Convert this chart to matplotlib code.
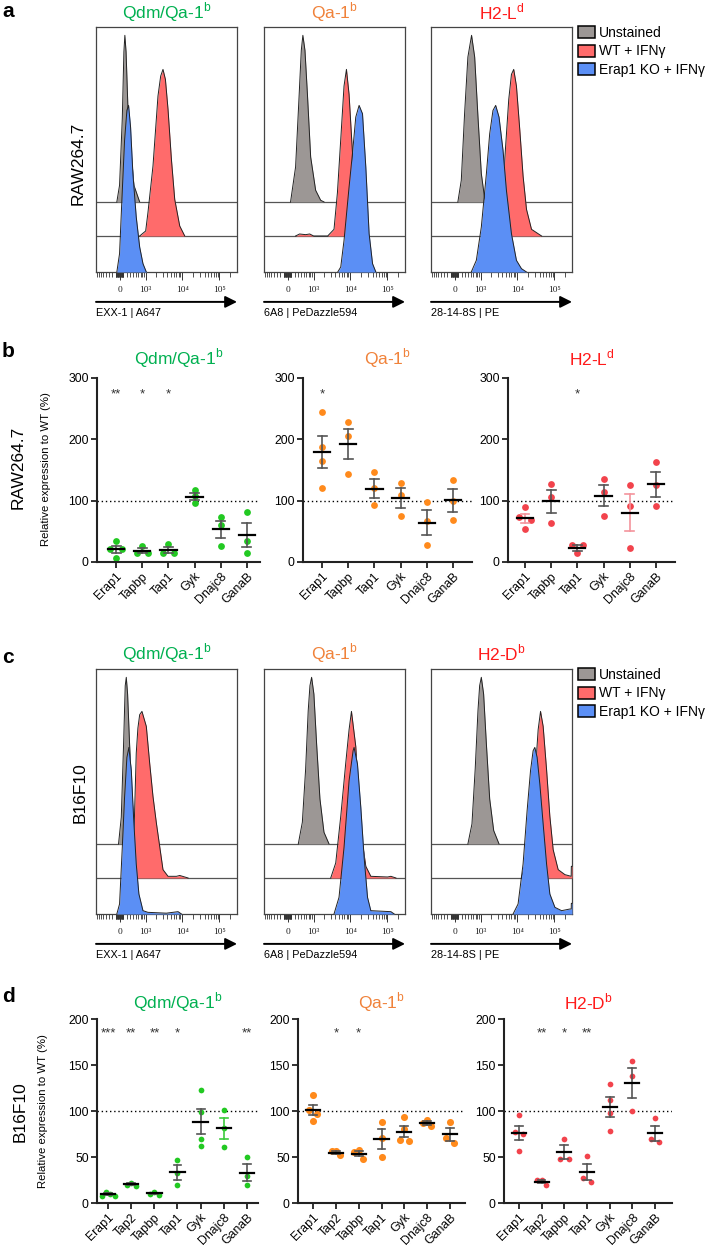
import matplotlib
matplotlib.use("Agg")
import matplotlib.pyplot as plt
import matplotlib.transforms as mtransforms
import numpy as np
from matplotlib.patches import Patch
from matplotlib.ticker import NullFormatter

plt.rcParams['font.family'] = ['Liberation Sans', 'DejaVu Sans']
plt.rcParams['mathtext.fontset'] = 'custom'
plt.rcParams['mathtext.rm'] = 'Liberation Sans'

# ---------------- data ----------------
samples = ["Unstained", "WT + IFNγ", "Erap1 KO + IFNγ"]

# flow histograms: (fluorescence, % of max / 100)
a_curves = [
    {"Unstained": ([-70, 0, 70, 112, 138, 171, 234, 417, 658],
                   [0, .1, .5, .9, 1, .9, .5, .1, 0]),
     "WT": ([658, 1000, 1162, 1611, 2213, 2624, 3032, 3527, 4153, 5129, 6300, 8600, 11740],
            [0, .03, .14, .42, .84, .96, 1, .94, .76, .46, .22, .06, 0]),
     "KO": ([-70, 0, 59, 130, 194, 243, 304, 381, 507, 658, 832, 1044],
            [0, .11, .43, .79, .97, 1, .87, .59, .33, .15, .05, 0])},
    {"Unstained": ([77, 214, 314, 395, 453, 536, 645, 814, 1140, 1580, 1950],
                   [0, .21, .61, .91, 1, .91, .65, .27, .07, .01, 0]),
     "WT": ([214, 337, 565, 760, 997, 2464, 3660, 4530, 5570, 6830, 7940, 9340, 11540, 14160, 17420, 21500],
            [0, .012, .008, .012, 0, 0, .04, .26, .58, .9, 1, .85, .5, .2, .05, 0]),
     "KO": ([4620, 5570, 6830, 9340, 11740, 14160, 17420, 21500, 26400, 32400, 40100, 49200],
            [0, .03, .19, .51, .73, .93, 1, .95, .63, .23, .05, 0])},
    {"Unstained": ([85, 177, 273, 381, 520, 658, 832, 1044, 1301, 1454],
                   [0, .13, .53, .87, 1, .87, .51, .17, .02, 0]),
     "WT": ([2744, 3750, 4820, 5930, 7010, 8080, 9560, 11740, 14430, 17850, 24350, 33250, 45400],
            [0, .14, .52, .82, .97, 1, .9, .64, .36, .16, .04, .02, 0]),
     "KO": ([507, 742, 1044, 1454, 1797, 2213, 2624, 3234, 4153, 5129, 7010, 9560, 13060, 17850],
            [0, .07, .27, .59, .83, .97, 1, .93, .73, .49, .23, .07, .02, 0])},
]
c_curves = [
    {"Unstained": ([-26, 44, 104, 148, 177, 214, 273, 360, 482, 622],
                   [0, .16, .6, .95, 1, .9, .6, .25, .05, 0]),
     "WT": ([360, 381, 443, 507, 577, 658, 775, 1044, 1301, 1611, 2000, 2464, 3032, 4153, 7010, 8600, 14430],
            [0, .05, .4, .75, .9, .98, 1, .91, .69, .49, .33, .19, .05, .01, .01, .015, 0]),
     "KO": ([-70, 0, 70, 130, 194, 252, 328, 405, 507, 622, 832, 1162, 3750, 7750, 9560],
            [0, .06, .4, .7, .94, 1, .86, .58, .3, .12, .02, .01, .005, .014, 0])},
    {"Unstained": ([295, 433, 565, 684, 775, 869, 1014, 1215, 1508, 1950, 2680],
                   [0, .13, .45, .8, .95, 1, .9, .6, .27, .07, 0]),
     "WT": ([2980, 4075, 5570, 7600, 9340, 10840, 14160, 17420, 21500, 26400, 36050, 101900, 125000, 170700],
            [0, .09, .37, .69, .89, 1, .79, .45, .21, .07, .01, .006, .01, 0]),
     "KO": ([3660, 5000, 6830, 9340, 11990, 12740, 15740, 19360, 23770, 29370, 36050, 125200, 153700],
            [0, .1, .4, .8, .98, 1, .9, .64, .34, .1, .02, .014, 0])},
    {"Unstained": ([381, 536, 684, 832, 933, 1044, 1215, 1454, 1797, 2316, 3234],
                   [0, .12, .45, .8, .95, 1, .9, .6, .27, .08, 0]),
     "WT": ([13060, 21900, 29900, 36750, 42640, 50140, 62000, 76000, 93300, 127300, 193700, 285000, 288000, 300000],
            [0, .19, .59, .89, 1, .91, .65, .37, .17, .05, .02, .01, .07, .07]),
     "KO": ([7750, 10580, 14430, 18530, 22900, 26900, 29900, 34500, 40800, 50140, 62000, 76000, 104000, 157400,
             264000, 286000, 288000, 300000],
            [0, .06, .3, .62, .86, .98, 1, .94, .78, .54, .3, .12, .04, .02, .03, .03, .064, .064])},
]
flow_xlabels = ["EXX-1 | A647", "6A8 | PeDazzle594", "28-14-8S | PE"]
flow_ticks = [0, 1e3, 1e4, 1e5]
flow_ticklabels = ["0", "10³", "10⁴", "10⁵"]

titles_ab = ["Qdm/Qa-1$^\\mathrm{b}$", "Qa-1$^\\mathrm{b}$", "H2-L$^\\mathrm{d}$"]
titles_cd = ["Qdm/Qa-1$^\\mathrm{b}$", "Qa-1$^\\mathrm{b}$", "H2-D$^\\mathrm{b}$"]

# relative expression to WT (%)
b_genes = ["Erap1", "Tapbp", "Tap1", "Gyk", "Dnajc8", "GanaB"]
b_qdm = [[34, 22, 21, 7], [26, 15, 15], [30, 14, 15], [117, 107, 96], [73, 60, 26], [81, 35, 15]]
b_qa1 = [[244, 188, 164, 121], [228, 205, 144], [146, 120, 93], [129, 110, 75], [98, 67, 28], [134, 100, 68]]
b_h2ld = [[90, 74, 68, 53], [127, 106, 64], [27, 27, 14], [136, 114, 75], [126, 92, 23], [163, 126, 91]]
b_stars = [["**", "*", "*", "", "", ""],
           ["*", "", "", "", "", ""],
           ["", "", "*", "", "", ""]]

d_genes = ["Erap1", "Tap2", "Tapbp", "Tap1", "Gyk", "Dnajc8", "GanaB"]
d_qdm = [[8, 12, 8, 10], [19, 22, 20], [9, 12, 10], [47, 33, 20], [123, 99, 70, 62], [101, 82, 61], [50, 29, 20]]
d_qa1 = [[117, 101, 97, 89], [52, 56, 56], [58, 48, 55], [88, 71, 50], [94, 80, 67, 69], [90, 84, 87], [88, 71, 65]]
d_h2db = [[96, 77, 75, 57], [20, 25, 25], [70, 48, 48], [51, 23, 27], [129, 112, 98, 78], [154, 138, 100],
          [92, 66, 70]]
d_stars = [["***", "**", "**", "*", "", "", "**"],
           ["", "*", "*", "", "", "", ""],
           ["", "**", "*", "**", "", "", ""]]

# ---------------- style ----------------
GREEN, ORANGE, RED = "#00B050", "#F0823A", "#FF1A1A"
DOT = ["#22C922", "#FF8A1C", "#F2434C"]
HIST = {"Unstained": "#9C9795", "WT": "#FF6B6B", "KO": "#5B8FF5"}
BASE = {"Unstained": 0.286, "WT": 0.147, "KO": 0.0}
PEAK = 0.68

W, H = 708, 1246
fig = plt.figure(figsize=(W / 100, H / 100), dpi=100)


def box(l, t, r, b):
    return fig.add_axes([l / W, 1 - b / H, (r - l) / W, (b - t) / H])


def ftext(x, y, s, **kw):
    fig.text(x / W, 1 - y / H, s, **kw)


def flow_panel(ax, curves, xlabel):
    ax.set_xscale('asinh', linear_width=412)
    ax.set_xlim(-840, 3.0e5)
    ax.set_ylim(0, 1)
    for name in ["Unstained", "WT"]:
        ax.axhline(BASE[name], color='#555555', lw=0.9, zorder=1)
    for z, name in enumerate(["Unstained", "WT", "KO"]):
        xs, hs = curves[name]
        ys = BASE[name] + np.asarray(hs) * PEAK
        ax.fill_between(xs, BASE[name], ys, color=HIST[name], lw=0, zorder=2 + z)
        ax.plot(xs, ys, color='#222222', lw=0.7, zorder=2 + z)
    minor = [-k * 10 ** j for j in (1, 2) for k in range(1, 10) if k * 10 ** j < 840]
    minor += [k * 10 ** j for j in (1, 2, 3, 4) for k in range(1, 10) if k > 1 or j < 3]
    minor += [2e5]
    ax.set_xticks(flow_ticks)
    ax.set_xticks(minor, minor=True)
    ax.xaxis.set_major_formatter(NullFormatter())
    ax.xaxis.set_minor_formatter(NullFormatter())
    ax.set_yticks([])
    ax.tick_params(axis='x', which='major', length=5.5, width=0.7, color='#333333')
    ax.tick_params(axis='x', which='minor', length=3.5, width=0.6, color='#333333')
    trans = mtransforms.blended_transform_factory(ax.transData, ax.transAxes)
    for v, s in zip(flow_ticks, flow_ticklabels):
        ax.text(v, -0.075, s, transform=trans, ha='center', va='center', fontsize=6.8,
                family=['Liberation Serif', 'DejaVu Serif'], color='#222222')
    for sp in ax.spines.values():
        sp.set_color('#444444')
        sp.set_linewidth(0.9)
    ax.annotate('', xy=(1.0, -0.122), xytext=(0, -0.122), xycoords='axes fraction',
                arrowprops=dict(arrowstyle='-|>,head_length=0.7,head_width=0.35', lw=1.4,
                                color='black', shrinkA=0, shrinkB=0), annotation_clip=False)
    ax.text(0, -0.145, xlabel, transform=ax.transAxes, ha='left', va='top', fontsize=7.8)


def swarm(vals, thresh, step):
    vals = np.asarray(vals, float)
    order = np.argsort(-vals, kind='stable')
    offs = np.zeros(len(vals))
    clusters, cur = [], [order[0]]
    for a, b in zip(order[:-1], order[1:]):
        if vals[a] - vals[b] < thresh:
            cur.append(b)
        else:
            clusters.append(cur)
            cur = [b]
    clusters.append(cur)
    for cl in clusters:
        n = len(cl)
        if n == 1:
            continue
        half = max(1.0, (n - 1) / 2)
        slots = np.linspace(-half, half, n)
        slots = slots[np.argsort(np.abs(slots) + 1e-3 * slots, kind='stable')]
        for idx, s in zip(cl, slots):
            offs[idx] = s * step
    return offs


def dot_panel(ax, genes, groups, stars, color, ymax, yticks, star_y, step, thresh, msize, xlim, bar_colors):
    ax.set_xlim(*xlim)
    ax.set_ylim(0, ymax)
    ax.axhline(100, color='black', lw=1, ls=(0, (1, 2)), zorder=1)
    for i, vals in enumerate(groups):
        offs = swarm(vals, thresh, step)
        ax.scatter(i + offs, vals, s=msize, color=color, lw=0, zorder=2, clip_on=False)
        m = np.mean(vals)
        se = np.std(vals, ddof=1) / np.sqrt(len(vals))
        bc = bar_colors.get(i, '#555555')
        ax.plot([i, i], [m - se, m + se], color=bc, lw=1.2, zorder=3)
        for yy in (m - se, m + se):
            ax.plot([i - 0.17, i + 0.17], [yy, yy], color=bc, lw=1.2, zorder=3)
        ax.plot([i - 0.31, i + 0.31], [m, m], color='black', lw=1.6, zorder=4)
        if stars[i]:
            ax.text(i, star_y, stars[i], ha='center', va='center', fontsize=9.5, color='#333333')
    ax.set_xticks(range(len(genes)))
    ax.set_xticklabels(genes, rotation=45, ha='right', rotation_mode='anchor', fontsize=8.8)
    ax.set_yticks(yticks)
    ax.tick_params(axis='both', length=4, width=1.3, labelsize=8.8, pad=2, color='#222222')
    for s in ['top', 'right']:
        ax.spines[s].set_visible(False)
    for s in ['left', 'bottom']:
        ax.spines[s].set_linewidth(1.5)
        ax.spines[s].set_color('#222222')


# ---------------- panels a & c ----------------
flow_x = [(96, 237), (264, 405), (431, 572)]
for row, (curves, titles, top, ttl_y) in enumerate([(a_curves, titles_ab, 27, 12),
                                                      (c_curves, titles_cd, 669, 653)]):
    for k in range(3):
        l, r = flow_x[k]
        ax = box(l, top, r, top + 245)
        flow_panel(ax, curves[k], flow_xlabels[k])
        ftext((l + r) / 2, ttl_y, titles[k], ha='center', va='center', fontsize=12.5,
              color=[GREEN, ORANGE, RED][k])
    handles = [Patch(facecolor=HIST[n], edgecolor='black', lw=1.1) for n in ["Unstained", "WT", "KO"]]
    fig.legend(handles, samples, loc='upper left', bbox_to_anchor=(578 / W, 1 - (top - 1) / H),
               frameon=False, fontsize=10, handlelength=1.25, handleheight=0.95, handletextpad=0.25,
               labelspacing=0.32, borderpad=0, borderaxespad=0)

# ---------------- panels b & d ----------------
b_boxes = [((97, 260), (-0.73, 5.5)), ((303, 472), (-0.73, 5.73)), ((508, 675), (-0.65, 5.73))]
d_boxes = [((97, 258), (-0.48, 6.48)), ((298, 465), (-0.66, 6.66)), ((504, 672), (-0.66, 6.75))]
b_bar_colors = [{}, {}, {0: '#F4949C', 4: '#F4949C'}]
d_bar_colors = [{5: '#3CCB3C'}, {}, {}]
b_sizes = [24, 24, 24]
d_sizes = [17, 26, 17]

for k, groups in enumerate([b_qdm, b_qa1, b_h2ld]):
    (l, r), xl = b_boxes[k]
    ax = box(l, 378, r, 562)
    dot_panel(ax, b_genes, groups, b_stars[k], DOT[k], 300, [0, 100, 200, 300], 273,
              0.22, 9.5, b_sizes[k], xl, b_bar_colors[k])
    ftext((l + r) / 2, 358, titles_ab[k], ha='center', va='center', fontsize=12.5,
          color=[GREEN, ORANGE, RED][k])

for k, groups in enumerate([d_qdm, d_qa1, d_h2db]):
    (l, r), xl = d_boxes[k]
    ax = box(l, 1019, r, 1203)
    dot_panel(ax, d_genes, groups, d_stars[k], DOT[k], 200, [0, 50, 100, 150, 200], 184,
              0.19, 7.6, d_sizes[k], xl, d_bar_colors[k])
    ftext((l + r) / 2, 1002, titles_cd[k], ha='center', va='center', fontsize=12.5,
          color=[GREEN, ORANGE, RED][k])

# ---------------- labels ----------------
ftext(46, 469, "Relative expression to WT (%)", rotation=90, ha='center', va='center', fontsize=8.2)
ftext(43, 1111, "Relative expression to WT (%)", rotation=90, ha='center', va='center', fontsize=8.2)
ftext(78, 163, "RAW264.7", rotation=90, ha='center', va='center', fontsize=12.5)
ftext(18, 467, "RAW264.7", rotation=90, ha='center', va='center', fontsize=12.5)
ftext(80, 793, "B16F10", rotation=90, ha='center', va='center', fontsize=12.5)
ftext(20, 1112, "B16F10", rotation=90, ha='center', va='center', fontsize=12.5)

for letter, y in [("a", 17), ("b", 357), ("c", 663), ("d", 1002)]:
    ftext(2, y, letter, ha='left', va='baseline', fontsize=15, fontweight='bold')

fig.savefig("out.png", dpi=100)
